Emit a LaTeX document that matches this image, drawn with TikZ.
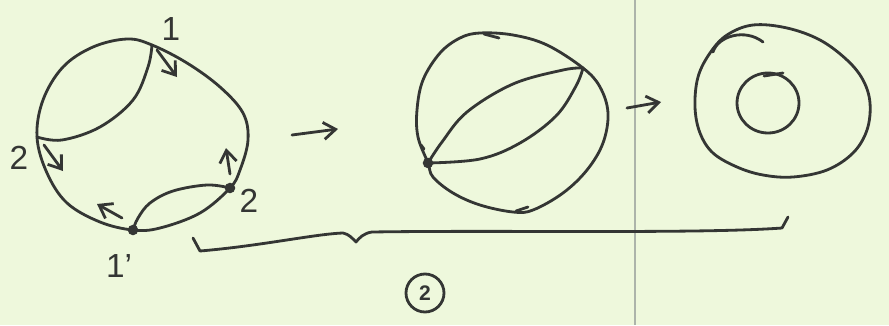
\documentclass[tikz,border=0pt]{standalone}
\usepackage{fontspec}
\setmainfont{Liberation Sans}
\usetikzlibrary{arrows.meta,shapes.geometric}
\definecolor{paper}{RGB}{238,248,220}
\definecolor{ink}{RGB}{52,54,52}
\definecolor{rule}{RGB}{172,180,170}
\tikzset{
  pen/.style={draw=ink, line width=1.6pt, line cap=round, line join=round},
  arw/.style={pen, -{Straight Barb[length=2.4mm,width=3.4mm]}},
  dotpt/.style={circle, fill=ink, inner sep=0pt, minimum size=6pt},
  lbl/.style={text=ink, font=\fontsize{19}{22}\selectfont, inner sep=0pt},
}
\begin{document}
\begin{tikzpicture}[x=0.02cm,y=-0.02cm]
\fill[paper] (0,0) rectangle (889,325);
\useasboundingbox (0,0) rectangle (889,325);
\draw[rule, line width=1.2pt] (635,0) -- (635,325);

% ---------- figure 1 ----------
\coordinate (t1) at (152,45);
\coordinate (l2) at (37,137);
\coordinate (b1) at (133,230);
\coordinate (r2) at (230,188);
\draw[pen] plot[smooth cycle, tension=0.6] coordinates {(127,39) (t1) (187,63) (220,87) (243,113) (248,140) (240,170) (r2) (200,213) (160,228) (b1) (100,222) (67,203) (47,173) (l2) (43,100) (63,67) (93,47)};
\draw[pen] plot[smooth, tension=0.6] coordinates {(t1) (148,67) (133,100) (100,127) (62,140) (l2)};
\draw[pen] plot[smooth, tension=0.6] coordinates {(b1) (138,218) (150,203) (173,191) (207,185) (r2)};
\node[dotpt] (d1) at (b1) {};
\node[dotpt] (d2) at (r2) {};

\coordinate (a1s) at (157,50);  \coordinate (a1e) at (177,77);
\coordinate (a2s) at (44,145);  \coordinate (a2e) at (63,171);
\coordinate (a3s) at (230,174); \coordinate (a3e) at (226,148);
\coordinate (a4s) at (122,218); \coordinate (a4e) at (97,204);
\draw[arw] (a1s) -- (a1e);
\draw[arw] (a2s) -- (a2e);
\draw[arw] (a3s) -- (a3e);
\draw[arw] (a4s) -- (a4e);

\node[lbl] (n1) at (171,29) {1};
\node[lbl] (n2) at (19,158) {2};
\node[lbl] (n3) at (249,201) {2};
\node[lbl] (n4) at (119,266) {1'};

% ---------- arrow 1 ----------
\coordinate (r1s) at (292,135);
\coordinate (r1e) at (338,129);
\draw[arw] (r1s) -- (r1e);

% ---------- figure 2 ----------
\coordinate (p) at (428,163);
\coordinate (q) at (583,68);
\draw[pen] plot[smooth cycle, tension=0.6] coordinates {(480,33) (513,35) (547,45) (q) (600,87) (608,113) (603,143) (587,170) (563,193) (533,210) (513,212) (480,205) (453,193) (433,177) (p) (418,137) (417,110) (423,80) (440,53) (460,38)};
\draw[pen] plot[smooth, tension=0.6] coordinates {(p) (442,142) (467,112) (513,84) (563,70) (q)};
\draw[pen] plot[smooth, tension=0.6] coordinates {(p) (480,159) (520,143) (556,116) (576,86) (q)};
\node[dotpt] (d3) at (p) {};
\draw[pen] (484,34) -- (499,38);
\draw[pen] (421,145) -- (424,149);
\draw[pen] (516,211) -- (528,207);

% ---------- arrow 2 ----------
\coordinate (r2s) at (627,108);
\coordinate (r2e) at (661,102);
\draw[arw] (r2s) -- (r2e);

% ---------- figure 3 ----------
\draw[pen] plot[smooth cycle, tension=0.6] coordinates {(753,25) (787,28) (820,40) (847,60) (863,80) (870,103) (867,130) (853,153) (827,170) (793,177) (763,175) (737,167) (713,153) (700,133) (695,107) (698,77) (710,53) (727,35)};
\node[pen, ellipse, minimum width=1.24cm, minimum height=1.2cm, inner sep=0pt] (inner) at (768,103) {};
\draw[pen] (713,52) .. controls (718,36) and (745,28) .. (763,42);
\draw[pen] (764,76) -- (783,73);

% ---------- brace ----------
\coordinate (bl) at (193,238);
\coordinate (br) at (788,217);
\coordinate (bt) at (356,242);
\draw[pen] (bl) -- (200,251) .. controls (260,246) and (315,234) .. (343,233) .. controls (349,234) and (353,239) .. (bt) .. controls (359,238) and (364,233) .. (372,232) .. controls (500,230) and (700,234) .. (782,228) -- (br);

% ---------- circled 2 ----------
\node[pen, circle, minimum size=0.76cm, inner sep=0pt, text=ink, font=\fontsize{12}{14}\selectfont\bfseries] (c2) at (425,293) {2};
\end{tikzpicture}
\end{document}
